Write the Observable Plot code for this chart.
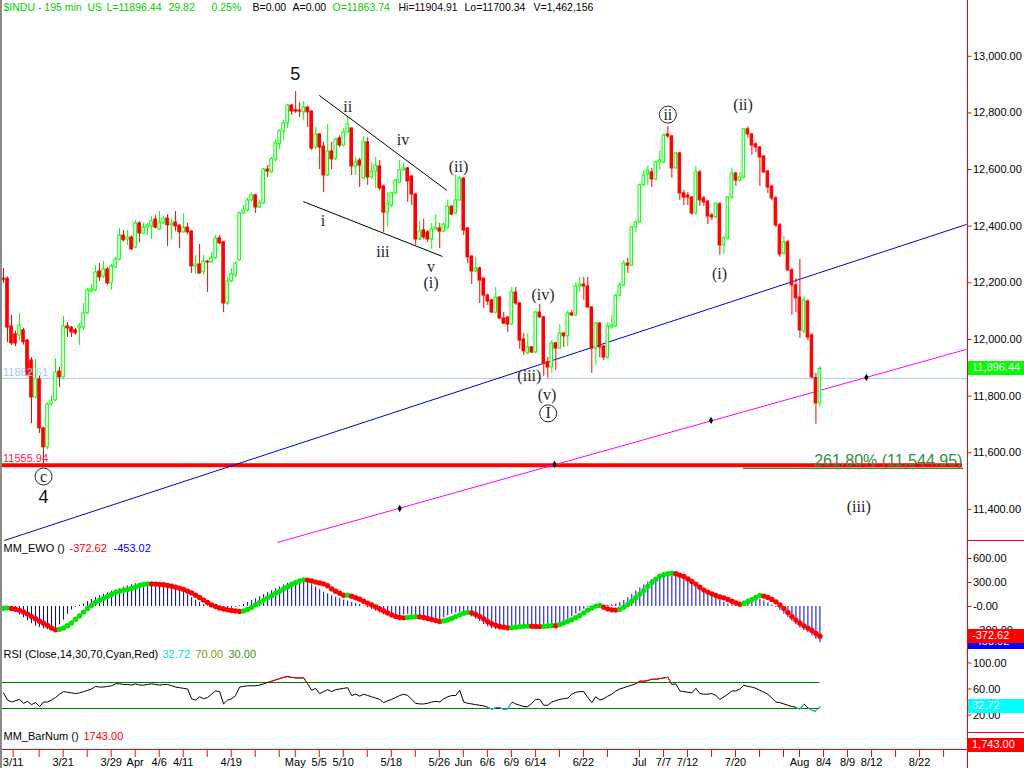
<!DOCTYPE html>
<html>
<head>
<meta charset="utf-8">
<script src="https://cdn.jsdelivr.net/npm/d3@7"></script>
<script src="https://cdn.jsdelivr.net/npm/@observablehq/plot@0.6"></script>
<style>
html,body{margin:0;padding:0;background:#fff;}
#chart{position:relative;width:1024px;height:768px;overflow:hidden;background:#fff;}
#chart svg{display:block;}
.box{position:absolute;left:968px;width:56px;height:14px;line-height:14px;color:#fff;font:11px 'Liberation Sans',Arial,sans-serif;padding-left:4px;box-sizing:border-box;white-space:nowrap;}
.sep{position:absolute;left:967px;width:57px;height:1px;background:#ff0000;}
</style>
</head>
<body>
<div id="chart"></div>
<script>
// ---------- DATA ----------
const opens = [12215,12215,12046,12018,12014,12032,11996,11926,11795,11859,
 11686,11619,11770,11785,11887,11866,12046,12042,12032,12039,
 12042,12092,12170,12173,12240,12222,12247,12198,12254,12282,
 12367,12353,12360,12325,12410,12374,12395,12399,12424,12388,
 12410,12427,12403,12413,12402,12378,12395,12381,12258,12265,
 12237,12275,12272,12286,12357,12343,12127,12205,12226,12279,
 12445,12455,12491,12509,12466,12480,12600,12590,12636,12689,
 12735,12763,12826,12810,12808,12802,12819,12805,12678,12724,
 12681,12579,12664,12639,12710,12685,12731,12745,12611,12632,
 12568,12696,12572,12593,12611,12540,12448,12473,12516,12554,
 12597,12604,12575,12512,12353,12385,12378,12353,12388,12392,
 12381,12395,12469,12445,12491,12568,12392,12293,12240,12251,
 12215,12155,12138,12095,12148,12074,12077,12053,12166,12127,
 12000,11951,11972,11954,12095,12078,11919,11901,11986,11968,
 12021,12011,12092,12085,12187,12194,12187,12113,11968,12056,
 11975,11936,12042,12046,12155,12191,12268,12261,12396,12413,
 12544,12583,12590,12565,12625,12625,12724,12717,12604,12657,
 12516,12508,12501,12445,12590,12498,12487,12438,12431,12477,
 12332,12357,12501,12586,12561,12572,12742,12724,12689,12678,
 12646,12593,12540,12498,12403,12304,12343,12244,12191,12148,
 12028,12134,12014,11864,11774];
const highs = [12250,12220,12085,12030,12091,12040,12000,11935,11929,11872,
 11690,11775,11802,11932,11901,12081,12060,12046,12040,12056,
 12127,12180,12194,12261,12268,12275,12255,12265,12290,12392,
 12385,12385,12365,12420,12415,12410,12410,12434,12438,12452,
 12434,12441,12424,12452,12405,12445,12410,12385,12297,12335,
 12297,12279,12307,12367,12367,12346,12219,12251,12275,12450,
 12473,12500,12515,12512,12491,12604,12614,12643,12706,12740,
 12773,12830,12830,12876,12837,12841,12823,12808,12749,12727,
 12696,12759,12696,12710,12720,12745,12784,12748,12643,12640,
 12717,12713,12625,12643,12632,12545,12519,12520,12565,12632,
 12621,12607,12580,12516,12417,12424,12385,12410,12441,12410,
 12413,12491,12473,12579,12575,12572,12395,12296,12290,12255,
 12218,12160,12142,12184,12152,12095,12080,12184,12184,12130,
 12021,12021,11975,12100,12124,12082,11936,11996,11990,12053,
 12025,12102,12102,12201,12219,12219,12219,12116,12060,12060,
 11980,12060,12085,12160,12201,12279,12286,12400,12420,12550,
 12597,12614,12604,12630,12667,12727,12752,12720,12662,12660,
 12526,12519,12505,12611,12597,12505,12491,12445,12484,12484,
 12364,12505,12604,12590,12590,12745,12751,12727,12695,12682,
 12650,12597,12545,12505,12410,12364,12350,12250,12215,12283,
 12152,12140,12021,11880,11905];
const lows = [12198,11989,11979,11975,11996,11980,11868,11703,11790,11668,
 11556,11610,11765,11780,11830,11860,12007,12007,12015,11979,
 12032,12088,12165,12168,12205,12215,12190,12173,12250,12278,
 12345,12332,12314,12320,12342,12370,12367,12353,12390,12385,
 12405,12328,12353,12381,12321,12375,12370,12233,12230,12230,
 12226,12166,12268,12282,12335,12095,12120,12200,12220,12275,
 12440,12450,12485,12445,12462,12477,12572,12586,12625,12671,
 12703,12745,12791,12798,12784,12773,12749,12667,12671,12600,
 12519,12575,12600,12632,12678,12680,12727,12579,12579,12537,
 12565,12544,12565,12533,12525,12378,12395,12465,12510,12550,
 12593,12484,12473,12332,12350,12353,12342,12318,12385,12321,
 12378,12390,12437,12440,12487,12367,12268,12194,12235,12127,
 12109,12120,12092,12090,12070,12052,12025,12050,12120,11965,
 11944,11945,11950,11950,12074,11870,11863,11880,11891,11965,
 11972,11975,12080,12082,12166,12138,12110,11880,11908,11936,
 11926,11930,12035,12042,12152,12187,12233,12257,12378,12410,
 12540,12544,12537,12560,12597,12620,12710,12569,12600,12491,
 12473,12473,12438,12440,12470,12470,12406,12420,12427,12297,
 12300,12350,12495,12540,12555,12565,12710,12650,12660,12540,
 12585,12515,12490,12395,12290,12297,12240,12085,12095,12004,
 12020,11995,11860,11700,11760];
const closes = [12211,12042,11986,11986,12049,11990,11873,11795,11862,11686,
 11619,11770,11781,11883,11866,12046,12039,12025,12021,12046,
 12092,12173,12177,12237,12219,12247,12198,12258,12282,12367,
 12350,12360,12318,12410,12374,12395,12402,12417,12395,12413,
 12427,12403,12410,12399,12378,12395,12378,12258,12265,12233,
 12275,12272,12286,12357,12339,12127,12205,12230,12268,12445,
 12455,12491,12509,12466,12480,12600,12593,12636,12692,12735,
 12763,12826,12805,12805,12805,12819,12802,12674,12724,12678,
 12579,12664,12636,12706,12685,12731,12759,12611,12625,12614,
 12696,12572,12593,12614,12533,12448,12480,12516,12561,12597,
 12604,12558,12512,12353,12381,12360,12353,12388,12395,12381,
 12406,12469,12441,12491,12568,12385,12290,12240,12251,12208,
 12155,12134,12095,12148,12074,12056,12053,12166,12127,11996,
 11958,11972,11954,12095,12078,11915,11901,11986,11968,12021,
 12011,12092,12085,12187,12194,12187,12113,11968,12056,11972,
 11936,12046,12049,12155,12191,12268,12261,12396,12413,12544,
 12579,12597,12565,12625,12632,12720,12717,12604,12657,12516,
 12501,12501,12445,12590,12491,12484,12434,12431,12480,12332,
 12357,12501,12586,12561,12572,12742,12724,12685,12678,12643,
 12590,12537,12498,12403,12300,12343,12244,12191,12145,12032,
 12138,12007,11866,11774,11896];

const ewoHist = [-8,-20,-40,-70,-105,-140,-180,-215,-245,-262,
 -278,-290,-294,-280,-230,-170,-95,-45,-10,15,
 35,62,88,112,135,152,170,190,208,222,
 240,258,272,285,292,296,296,290,280,272,
 262,248,232,214,198,175,145,110,80,52,
 25,5,-10,-22,-30,-35,-30,-22,-10,8,
 28,50,75,98,122,148,172,198,222,245,
 268,290,305,318,325,318,300,272,242,212,
 180,158,135,115,98,80,68,52,40,25,
 5,-15,-38,-58,-80,-105,-118,-128,-133,-120,
 -105,-98,-105,-115,-130,-162,-182,-195,-196,-170,
 -140,-115,-95,-82,-75,-72,-95,-130,-158,-190,
 -225,-255,-278,-290,-294,-292,-280,-265,-255,-248,
 -240,-235,-238,-240,-236,-232,-228,-222,-215,-205,
 -185,-160,-125,-95,-62,-35,-12,0,10,14,
 12,15,20,30,48,75,108,150,192,232,
 270,305,338,362,385,400,408,405,392,372,
 345,318,292,262,232,200,170,140,110,80,
 55,32,22,28,45,70,95,105,100,88,
 70,45,18,-12,-50,-95,-140,-185,-228,-268,
 -300,-330,-365,-410,-453.02];
const ewoSignal = [-22,-20,-24,-33,-48,-68,-95,-125,-152,-183,
 -210,-238,-268,-292,-285,-268,-240,-205,-160,-118,
 -70,-25,15,52,78,102,125,150,175,190,
 203,212,225,245,262,275,283,282,280,276,
 271,263,253,242,228,212,192,170,140,112,
 80,50,20,0,-18,-32,-42,-50,-56,-62,
 -55,-38,-12,20,52,80,108,135,165,192,
 220,248,275,298,318,333,330,318,305,295,
 283,260,220,190,165,140,142,128,110,90,
 65,42,18,-5,-30,-55,-80,-105,-125,-138,
 -142,-136,-130,-127,-130,-138,-150,-163,-175,-187,
 -180,-168,-150,-128,-105,-85,-72,-80,-100,-125,
 -155,-190,-215,-235,-250,-260,-267,-265,-258,-252,
 -248,-245,-247,-250,-251,-248,-244,-238,-240,-225,
 -205,-185,-165,-140,-112,-80,-45,-18,5,12,
 -8,-30,-42,-45,-35,-8,25,65,110,155,
 200,250,300,342,378,398,410,417,410,392,
 375,345,313,280,240,205,180,158,138,118,
 108,88,65,45,28,38,60,85,112,138,
 130,112,88,58,20,-25,-75,-125,-170,-210,
 -242,-270,-300,-338,-372.62];
const rsiValues = [54,43,40,42,44,38,41,36,39,33,
 40,40,43,47,52,56,55,54,53,54,
 56,58,60,64,63,63,64,65,68,68,
 67,67,66,68,66,66,67,68,67,66,
 67,67,65,63,62,61,60,45,43,48,
 45,47,52,57,56,37,43,45,50,63,
 64,65,65,65,66,68,70,72,74,76,
 78,79,78,77,77,77,68,58,61,53,
 56,59,56,59,60,61,62,50,52,49,
 52,50,48,46,44,39,42,44,47,50,
 52,50,44,38,37,37,38,40,41,40,
 45,48,50,50,58,40,38,37,36,35,
 34,32,29,31,31,29,29.5,40,37,35,
 33,33,38,44,44,35,35,40,42,44,
 45,46,52,55,56,56,47,39,48,43,
 45,49,52,57,60,62,64,66,68,72,
 72,73,75,75,76,77,78,67,68,57,
 56,55,54,61,53,52,52,53,50,44,
 48,52,57,57,60,66,64,63,61,58,
 55,52,46,40,39,37,35,33,32,29,
 37,31,27,26,32.72];

// date axis (bar positions of the ticks) and their labels
const tickBars = [2.4,8.9,14.9,20.9,26.9,32.9,38.9,44.9,50.9,56.9,62.9,68.9,72.9,78.9,84.9,90.9,96.9,102.9,108.9,114.9,120.9,126.9,132.9,138.9,144.9,150.9,158.9,164.9,170.9,176.9,182.9,188.9,194.9,198.9,204.9,210.9,216.9,222.9,228.9,234.9];
const tickLabels = ["3/11","","3/21","","3/29","Apr","4/6","4/11","","4/19","","","May","5/5","5/10","","5/18","","5/26","Jun","6/6","6/9","6/14","","6/22","","Jul","7/7","7/12","","7/20","","","Aug","8/4","8/9","8/12","","8/22",""];

// price axis ticks and oscillator ticks
const priceTicks = [11400,11600,11800,12000,12200,12400,12600,12800,13000];
const ewoTicks = [600,300,0,-300];
const rsiTicks = [100,60,20];

// horizontal levels
const lastPrice = 11896.44;
const refLevel = 11862.61;
const swingLow = 11555.94;
const fibLevel = 11544.95;
const fibText = "261.80% (11,544.95)";
const rsiBands = [70, 30];
const barNum = 1743;

// trend lines (bar index, price)
const trendStartBar = [0.2, 68.4, 78.9, 74.9];
const trendStartPrice = [11290, 11283, 12862, 12487];
const trendEndBar = [240.6, 240.6, 110.8, 109.7];
const trendEndPrice = [12406, 11965, 12526, 12293];
const anchorBars = [99, 137.7, 176.8, 215.6];
const anchorPrices = [11403, 11559, 11714, 11866];

// Elliott wave labels
const waveText = ["5","ii","iv","i","iii","v","(i)","(ii)","(iv)","(iii)","(v)","I","ii","(ii)","(i)","(iii)","c","4"];
const waveBar = [72.9,86.0,99.8,79.8,94.8,106.8,106.8,113.7,134.8,131.4,135.8,136.1,166.0,184.8,178.9,213.7,10.0,10.0];
const wavePrice = [12938,12820,12706,12420,12308,12255,12199,12611,12159,11873,11806,11739,12794,12830,12230,11408,11516,11443];
const waveCircled = [11, 12, 16];
const waveSans = [0, 17];

const headerTexts = ["$INDU - 195 min","US","L=11896.44","29.82","0.25%","B=0.00","A=0.00","O=11863.74","Hi=11904.91","Lo=11700.34","V=1,462,156"];

// ---------- STYLE / LAYOUT ----------
const RED = "#ff0000", GREEN = "#00ff00", DOTGREEN = "#00e400", BLUE = "#0000cc", CYAN = "#00dede";
const SANS = "'Liberation Sans', Arial, sans-serif";
const SERIF = "'Liberation Serif', 'Times New Roman', serif";
const AX = 240.875;
const ML = 1;
const headerX = [3,87,106,168,211,252,292,332,398,464,533];
const headerColor = ["#00d000","#00d000","#00d000","#00d000","#00d000","#000","#000","#00d000","#200020","#000","#000"];
const trendColor = ["#0000e0","#ff00ff","#000000","#000000"];

const chart = document.getElementById("chart");
const base = {width: 1024, marginLeft: ML, marginRight: 57, marginTop: 0, marginBottom: 0,
  color: {type: "identity"},
  style: {fontFamily: SANS, fontSize: "11px", background: "transparent", overflow: "visible"}};
const xOpt = {domain: [-0.5, AX], axis: null};

function rightAxis(ticks, fmt) {
  return [
    Plot.ruleX([AX], {stroke: RED}),
    Plot.link(ticks, {x1: AX, x2: AX + 1, y1: d => d, y2: d => d, stroke: RED}),
    Plot.text(ticks, {x: AX + 1.35, y: d => d, text: fmt, textAnchor: "start", fill: "black", fontSize: 11})
  ];
}
function legend(texts, xs, colors, dy, size = 11) {
  return texts.map((t, k) => Plot.text([t], {frameAnchor: "top-left", text: d => d, dx: xs[k] - ML, dy,
    lineAnchor: "top", textAnchor: "start", fill: colors[k], fontSize: size}));
}

// ---------- PRICE PANEL ----------
const bars = opens.map((o, i) => ({i, o, h: highs[i], l: lows[i], c: closes[i], up: closes[i] >= o}));
const trendIdx = d3.range(trendStartBar.length);
const anchorIdx = d3.range(anchorBars.length);
const waveIdx = d3.range(waveText.length);
const fmtPrice = d3.format(",.2f");

const pricePlot = Plot.plot({
  ...base, height: 540,
  x: xOpt,
  y: {domain: [11290, 13197], axis: null},
  marks: [
    Plot.ruleY([refLevel], {x1: -0.5, x2: AX, stroke: "#a6caf0"}),
    Plot.ruleY([swingLow], {x1: -0.5, x2: 239.6, stroke: RED, strokeWidth: 4}),
    Plot.ruleY([fibLevel], {x1: 184.9, x2: 239.9, stroke: "#006400"}),
    Plot.link(trendIdx, {x1: i => trendStartBar[i], y1: i => trendStartPrice[i], x2: i => trendEndBar[i], y2: i => trendEndPrice[i], stroke: i => trendColor[i]}),
    Plot.dot(anchorIdx, {x: i => anchorBars[i], y: i => anchorPrices[i], symbol: "diamond", r: 2.2, fill: "black"}),
    Plot.ruleX(bars, {x: "i", y1: "l", y2: "h", stroke: d => d.up ? GREEN : RED}),
    Plot.rect(bars, {x1: d => d.i - 0.32, x2: d => d.i + 0.32, y1: "o", y2: "c",
      fill: d => d.up ? "#ffffff" : RED, stroke: d => d.up ? GREEN : RED}),
    Plot.dot(waveCircled, {x: i => waveBar[i], y: i => wavePrice[i], r: 8.5, stroke: "#222", strokeWidth: 1, fill: "none"}),
    Plot.text(waveIdx.filter(i => !waveSans.includes(i)), {x: i => waveBar[i], y: i => wavePrice[i], text: i => waveText[i],
      fontFamily: SERIF, fontSize: 16, fill: "#1e1e34"}),
    Plot.text(waveSans, {x: i => waveBar[i], y: i => wavePrice[i], text: i => waveText[i],
      fontFamily: SANS, fontSize: 18, fill: "#111"}),
    Plot.text([refLevel], {x: -0.5, y: d => d, text: d => d.toFixed(2), dx: 1.5, dy: -2, lineAnchor: "bottom", textAnchor: "start", fill: "#a6caf0", fontSize: 11}),
    Plot.text([swingLow], {x: -0.5, y: d => d, text: d => d.toFixed(2), dx: 1.5, dy: -3, lineAnchor: "bottom", textAnchor: "start", fill: "#ff2050", fontSize: 11}),
    Plot.text([fibLevel], {x: 239.6, y: d => d, text: () => fibText, dy: -2, lineAnchor: "bottom", textAnchor: "end", fill: "#2f8f3f", fontSize: 16}),
    ...rightAxis(priceTicks, d => fmtPrice(d)),
    ...legend(headerTexts, headerX, headerColor, 3, 10.5)
  ]
});
chart.appendChild(pricePlot);

// ---------- EWO PANEL ----------
const ewoRows = ewoHist.map((h, i) => ({i, h, s: ewoSignal[i], rising: i === 0 || ewoSignal[i] >= ewoSignal[i - 1]}));
const ewoPlot = Plot.plot({
  ...base, height: 105,
  x: xOpt,
  y: {domain: [-487.5, 825], axis: null},
  marks: [
    Plot.ruleX(ewoRows, {x: "i", y1: 0, y2: "h", stroke: BLUE}),
    Plot.dot(ewoRows, {x: "i", y: "s", r: 2.7, fill: d => d.rising ? DOTGREEN : RED}),
    ...rightAxis(ewoTicks, d => d === 0 ? "-0.00" : d3.format(".2f")(d)),
    ...legend(["MM_EWO ()", ewoSignal[ewoSignal.length - 1].toFixed(2), ewoHist[ewoHist.length - 1].toFixed(2)], [3, 69, 113], ["#000", RED, "#0000ff"], 4)
  ]
});
chart.appendChild(ewoPlot);

// ---------- RSI PANEL ----------
const rsiRows = rsiValues.map((v, i) => ({i, v}));
const rsiSegs = d3.pairs(rsiRows)
  .filter(([a, b]) => Math.max(a.v, b.v) > 70 || Math.min(a.v, b.v) < 30)
  .map(([a, b]) => ({a, b, color: Math.max(a.v, b.v) > 70 ? RED : CYAN}));
const rsiPlot = Plot.plot({
  ...base, height: 86,
  x: xOpt,
  y: {domain: [-5.38, 126.92], axis: null},
  marks: [
    Plot.ruleY(rsiBands, {x1: -0.25, x2: rsiValues.length - 1, stroke: "#008000"}),
    Plot.line(rsiRows, {x: "i", y: "v", stroke: "#000", strokeWidth: 1}),
    Plot.link(rsiSegs, {x1: d => d.a.i, y1: d => d.a.v, x2: d => d.b.i, y2: d => d.b.v, stroke: d => d.color}),
    ...rightAxis(rsiTicks, d => d3.format(".2f")(d)),
    ...legend(["RSI (Close,14,30,70,Cyan,Red)", rsiValues[rsiValues.length - 1].toFixed(2), rsiBands[0].toFixed(2), rsiBands[1].toFixed(2)],
      [3, 162, 195, 228], ["#000", CYAN, "#7a9a10", "#3f8f1f"], 5)
  ]
});
chart.appendChild(rsiPlot);

// ---------- BARNUM PANEL + DATE AXIS ----------
const bottomPlot = Plot.plot({
  ...base, height: 37,
  x: xOpt,
  y: {domain: [0, 1], range: [18, 2], axis: null},
  marks: [
    Plot.ruleY([0], {x1: -0.5, x2: AX, stroke: RED}),
    Plot.ruleX(tickBars, {x: d => d, y1: 0, y2: -0.5, stroke: RED}),
    Plot.text(tickBars, {x: d => d, y: -0.56, text: (d, i) => tickLabels[i], lineAnchor: "top", fill: "#000", fontSize: 11}),
    Plot.ruleX([AX], {stroke: RED}),
    ...legend(["MM_BarNum ()", barNum.toFixed(2)], [3, 83], ["#000", RED], 1)
  ]
});
chart.appendChild(bottomPlot);

// ---------- right-side value boxes ----------
function addBox(top, plot, value, label, bg) {
  const y = top + plot.scale("y").apply(value);
  const div = document.createElement("div");
  div.className = "box";
  div.textContent = label;
  div.style.top = (y - 7) + "px";
  div.style.background = bg;
  chart.appendChild(div);
}
addBox(0, pricePlot, lastPrice, fmtPrice(lastPrice), "#00ff00");
addBox(540, ewoPlot, ewoHist[ewoHist.length - 1], ewoHist[ewoHist.length - 1].toFixed(2), "#0000ff");
addBox(540, ewoPlot, ewoSignal[ewoSignal.length - 1], ewoSignal[ewoSignal.length - 1].toFixed(2), "#ff0000");
addBox(645, rsiPlot, rsiValues[rsiValues.length - 1], rsiValues[rsiValues.length - 1].toFixed(2), "#00ffff");
const bn = document.createElement("div");
bn.className = "box"; bn.textContent = d3.format(",.2f")(barNum); bn.style.top = "738px"; bn.style.background = "#ff0000";
chart.appendChild(bn);

[540, 732].forEach(t => { const s = document.createElement("div"); s.className = "sep"; s.style.top = t + "px"; chart.appendChild(s); });
const edge = document.createElement("div");
Object.assign(edge.style, {position: "absolute", left: "0px", top: "0px", width: "2px", height: "768px", background: "#8a8a8a"});
chart.appendChild(edge);
</script>
</body>
</html>
